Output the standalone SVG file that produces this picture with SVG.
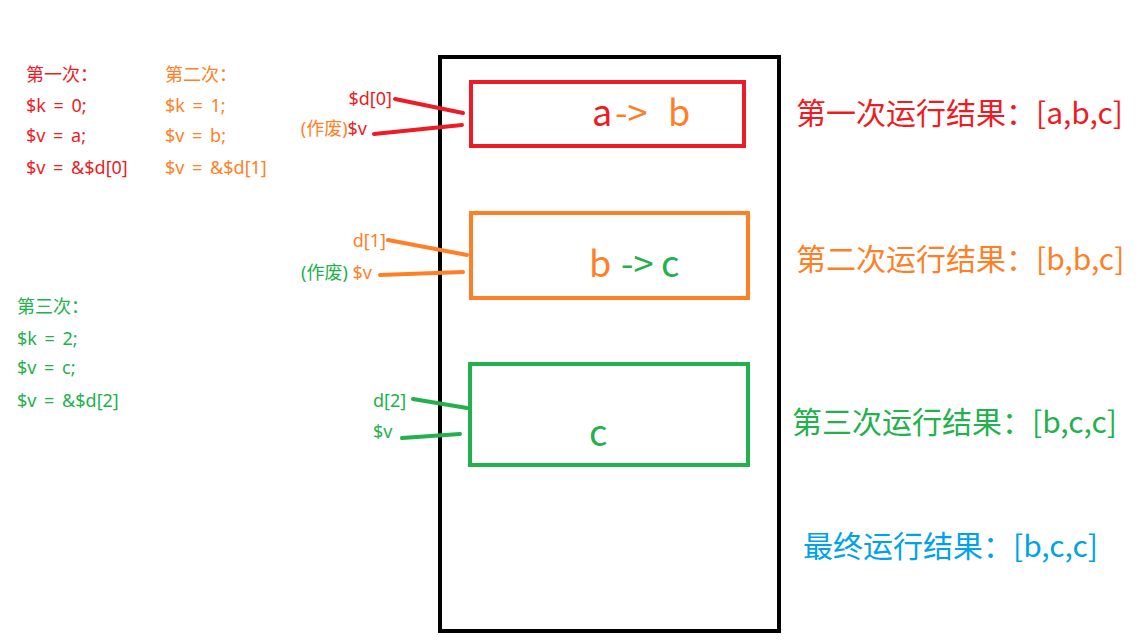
<svg xmlns="http://www.w3.org/2000/svg" width="1137" height="644" viewBox="0 0 1137 644">
<style>
text{font-family:"Microsoft YaHei","Noto Sans CJK SC","Noto Sans",sans-serif;}
.s{font-size:18px;font-family:"Noto Sans","Noto Sans CJK SC",sans-serif;}
.n{word-spacing:3px;}
.m{font-size:36px;}
.l{font-size:30px;}
.r{fill:#ED1C24;}
.o{fill:#FF7F27;}
.g{fill:#22B14C;}
.b{fill:#00A2E8;}
.box{fill:none;stroke-width:4;}
.ln{stroke-width:4;stroke-linecap:round;fill:none;}
</style>
<rect width="1137" height="644" fill="#fff"/>
<g id="outer"><rect class="box" x="440" y="57" width="339" height="574" stroke="#000"/></g>
<g id="notes1">
<text class="s r" x="26" y="81">第一次：</text>
<text class="s n r" x="26" y="112">$k = 0;</text>
<text class="s n r" x="26" y="142">$v = a;</text>
<text class="s n r" x="26" y="174">$v = &amp;$d[0]</text>
</g>
<g id="notes2">
<text class="s o" x="165" y="81">第二次：</text>
<text class="s n o" x="165" y="112">$k = 1;</text>
<text class="s n o" x="165" y="142">$v = b;</text>
<text class="s n o" x="165" y="174">$v = &amp;$d[1]</text>
</g>
<g id="notes3">
<text class="s g" x="17" y="313">第三次：</text>
<text class="s n g" x="17" y="345">$k = 2;</text>
<text class="s n g" x="17" y="374">$v = c;</text>
<text class="s n g" x="17" y="407">$v = &amp;$d[2]</text>
</g>
<g id="box1">
<rect class="box" x="471" y="82" width="273" height="64" stroke="#ED1C24"/>
<text class="m"><tspan class="r" x="592" y="126">a</tspan><tspan class="o" x="615" y="126">-&gt;</tspan><tspan class="o" x="668" y="126">b</tspan></text>
</g>
<g id="box2">
<rect class="box" x="471" y="213" width="277" height="85" stroke="#FF7F27"/>
<text class="m"><tspan class="o" x="589" y="277">b</tspan><tspan class="g" x="621" y="277">-&gt;</tspan><tspan class="g" x="661" y="277">c</tspan></text>
</g>
<g id="box3">
<rect class="box" x="470" y="364" width="278" height="101" stroke="#22B14C"/>
<text class="m g" x="589" y="446">c</text>
</g>
<g id="labels">
<text class="s r" x="392" y="105" text-anchor="end">$d[0]</text>
<text class="s" x="367" y="135" text-anchor="end"><tspan class="o">(作废)</tspan><tspan class="r">$v</tspan></text>
<text class="s o" x="386" y="247" text-anchor="end">d[1]</text>
<text class="s" x="372" y="279" text-anchor="end"><tspan class="g">(作废)</tspan><tspan class="o"> $v</tspan></text>
<text class="s g" x="373" y="407">d[2]</text>
<text class="s g" x="373" y="438">$v</text>
</g>
<g id="connectors">
<line class="ln" x1="395" y1="99" x2="463" y2="113" stroke="#ED1C24"/>
<line class="ln" x1="374" y1="134" x2="462" y2="125" stroke="#ED1C24"/>
<line class="ln" x1="388" y1="240" x2="467" y2="255" stroke="#FF7F27"/>
<line class="ln" x1="380" y1="275" x2="463" y2="272" stroke="#FF7F27"/>
<line class="ln" x1="413" y1="399" x2="467" y2="408" stroke="#22B14C"/>
<line class="ln" x1="402" y1="438" x2="460" y2="434" stroke="#22B14C"/>
</g>
<g id="results">
<text class="l r" x="796" y="124">第一次运行结果：[a,b,c]</text>
<text class="l o" x="796" y="270">第二次运行结果：[b,b,c]</text>
<text class="l g" x="792" y="433">第三次运行结果：[b,c,c]</text>
<text class="l b" x="803" y="557">最终运行结果：[b,c,c]</text>
</g>
</svg>
